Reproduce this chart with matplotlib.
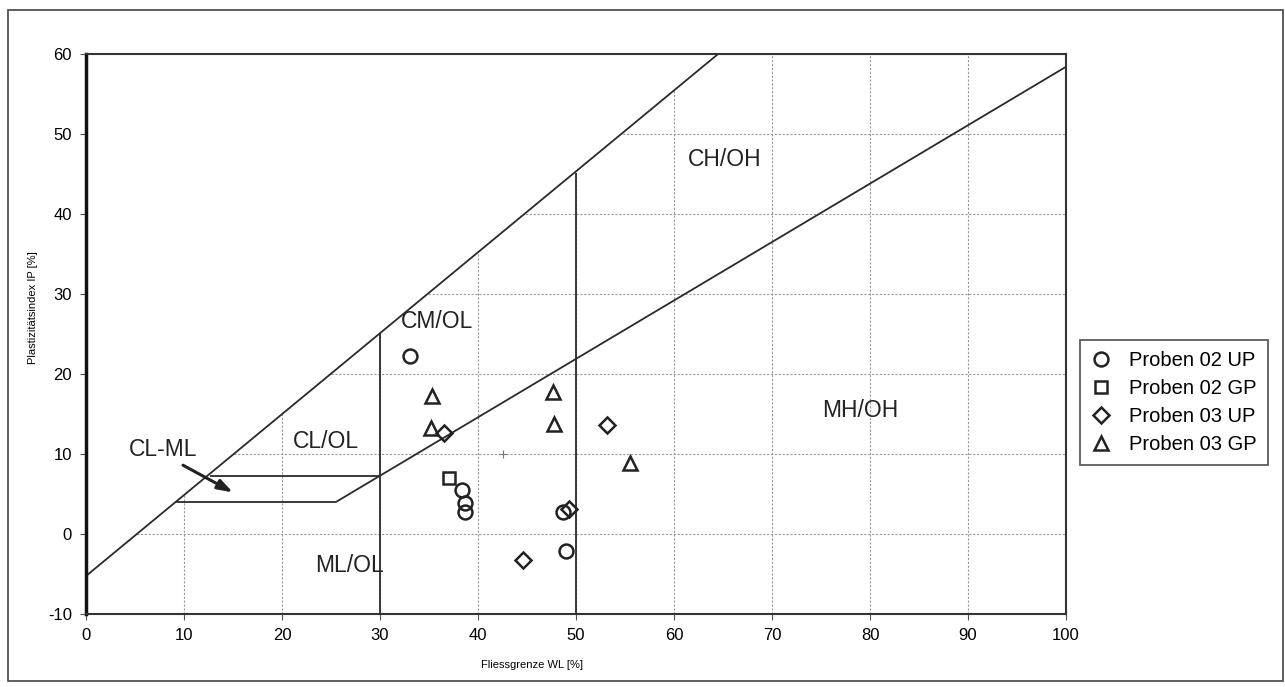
import matplotlib
matplotlib.use("Agg")
import matplotlib.pyplot as plt
from matplotlib.patches import Rectangle, Polygon
import numpy as np

plt.rcParams['font.family'] = ['Liberation Sans', 'DejaVu Sans']
plt.rcParams['axes.unicode_minus'] = False

# ---- data ----
series_names = ["Proben 02 UP", "Proben 02 GP", "Proben 03 UP", "Proben 03 GP"]
p02_up_wl = [33.1, 38.4, 38.7, 38.7, 48.7, 49.0]
p02_up_ip = [22.2, 5.5, 3.9, 2.7, 2.8, -2.1]
p02_gp_wl = [37.0]
p02_gp_ip = [7.0]
p03_up_wl = [36.5, 49.3, 44.6, 53.2]
p03_up_ip = [12.6, 3.1, -3.2, 13.6]
p03_gp_wl = [35.3, 35.2, 47.7, 47.8, 55.5]
p03_gp_ip = [17.2, 13.2, 17.8, 13.75, 8.9]

# boundary lines of the plasticity chart
upper_wl = [0, 64.5]
upper_ip = [-5.25, 60]
aline_wl = [9.3, 25.5, 100]
aline_ip = [4.0, 4.0, 58.4]
clml_wl = [12.8, 30]
clml_ip = [7.3, 7.3]
v30_wl = [30, 30]
v30_ip = [-10, 25]
v50_wl = [50, 50]
v50_ip = [-10, 45]

zone_labels = ["CH/OH", "CM/OL", "CL/OL", "MH/OH", "ML/OL"]
zone_x = [65.2, 35.8, 24.5, 79.0, 26.9]
zone_y = [46.75, 26.5, 11.6, 15.4, -4.0]

clml_label = "CL-ML"
clml_label_xy = (7.9, 10.6)
arrow_start = (9.9, 8.6)
arrow_end = (15.0, 5.2)

x_ticks = [0, 10, 20, 30, 40, 50, 60, 70, 80, 90, 100]
y_ticks = [-10, 0, 10, 20, 30, 40, 50, 60]

# ---- figure ----
W, H = 1285, 687
fig = plt.figure(figsize=(W / 100, H / 100), dpi=100)
ax = fig.add_axes([86 / W, 1 - 614 / H, (1066 - 86) / W, (614 - 54) / H])
ax.set_xlim(0, 100)
ax.set_ylim(-10, 60)
ax.set_xticks(x_ticks)
ax.set_yticks(y_ticks)
ax.tick_params(labelsize=12, length=4, width=0.8, color='#555555', pad=6)

# grid
ax.grid(True, color='#999999', linestyle=(0, (2, 1.5)), linewidth=0.8, zorder=0)
ax.set_axisbelow(True)

# white out grid above the upper line
ax.add_patch(Polygon([[0, -5.25], [0, 60], [64.5, 60]], closed=True,
                     facecolor='white', edgecolor='none', zorder=1))

lc = '#2a2a2a'
lw = 1.3
ax.plot(upper_wl, upper_ip, color=lc, lw=lw, zorder=2)
ax.plot(aline_wl, aline_ip, color=lc, lw=lw, zorder=2)
ax.plot(clml_wl, clml_ip, color=lc, lw=lw, zorder=2)
ax.plot(v30_wl, v30_ip, color=lc, lw=lw, zorder=2)
ax.plot(v50_wl, v50_ip, color=lc, lw=lw, zorder=2)

# small cross artifact
ax.plot([42.5], [10], marker='+', color='#777777', markersize=6, mew=0.8, zorder=2)

for lbl, x, y in zip(zone_labels, zone_x, zone_y):
    ax.text(x, y, lbl, fontsize=16.5, ha='center', va='center', color='#222222', zorder=3)

ax.text(clml_label_xy[0], clml_label_xy[1], clml_label, fontsize=16.5,
        ha='center', va='center', color='#222222', zorder=3)
ax.annotate("", xy=arrow_end, xytext=arrow_start,
            arrowprops=dict(arrowstyle='-|>,head_length=0.9,head_width=0.3',
                            color='#222222', lw=2.2, shrinkA=0, shrinkB=0),
            zorder=3)

mk = dict(linestyle='none', markerfacecolor='none', markeredgecolor='#222222',
          markeredgewidth=1.8, zorder=4)
h1, = ax.plot(p02_up_wl, p02_up_ip, marker='o', markersize=10, label=series_names[0], **mk)
h2, = ax.plot(p02_gp_wl, p02_gp_ip, marker='s', markersize=9, label=series_names[1], **mk)
h3, = ax.plot(p03_up_wl, p03_up_ip, marker='D', markersize=8.5, label=series_names[2], **mk)
h4, = ax.plot(p03_gp_wl, p03_gp_ip, marker='^', markersize=9.5, label=series_names[3], **mk)

# spines
for s in ['top', 'right', 'bottom']:
    ax.spines[s].set_color('#333333')
    ax.spines[s].set_linewidth(1.5)
ax.spines['left'].set_color('#111111')
ax.spines['left'].set_linewidth(2.5)

# axis labels
fig.text(532 / W, 1 - 665 / H, "Fliessgrenze WL [%]", fontsize=8, ha='center', va='center')
fig.text(33 / W, 1 - 308 / H, "Plastizitätsindex IP [%]", fontsize=8, ha='center',
         va='center', rotation=90)

# legend
leg = fig.legend(handles=[h1, h2, h3, h4], loc='upper left',
                 bbox_to_anchor=(1080 / W, 1 - 340 / H), fontsize=14.5,
                 frameon=True, fancybox=False, edgecolor='#333333',
                 handlelength=1.0, handletextpad=0.9, borderpad=0.55,
                 labelspacing=0.45, borderaxespad=0)
leg.get_frame().set_linewidth(1.3)

# outer frame
fig.add_artist(Rectangle((8 / W, 1 - 681 / H), (1283 - 8) / W, (681 - 10) / H,
                         transform=fig.transFigure, fill=False,
                         edgecolor='#444444', linewidth=1.2))

fig.savefig("out.png", dpi=100)
